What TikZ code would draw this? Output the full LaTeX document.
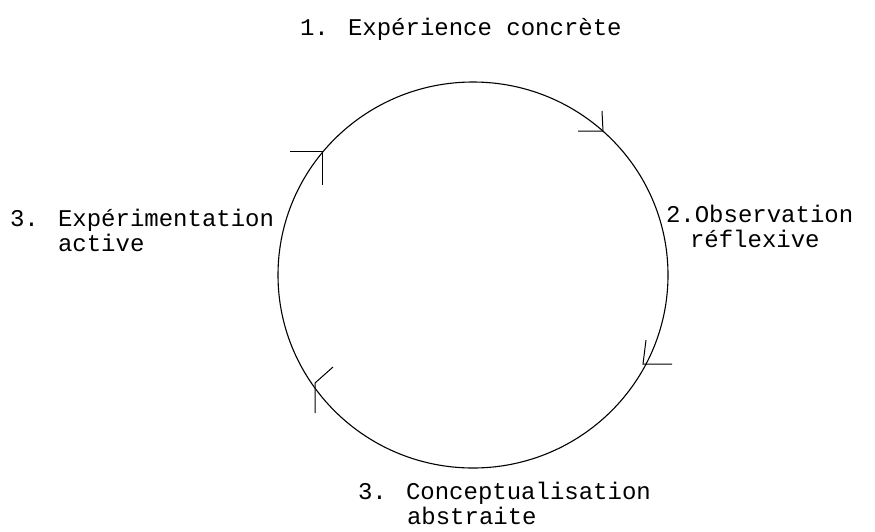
\documentclass[tikz,border=0pt]{standalone}
\usepackage{fontspec}
\setmainfont{Liberation Mono}
\usetikzlibrary{shapes.geometric}
\begin{document}
\begin{tikzpicture}[x=1pt,y=-1pt,
  lbl/.style={inner sep=0pt, outer sep=0pt, align=left, font=\fontsize{24}{25}\selectfont},
  ring/.style={draw, line width=1.1pt, ellipse, inner sep=0pt, minimum width=390pt, minimum height=386pt},
  tick/.style={line width=1pt}]
\useasboundingbox (0,0) rectangle (875,531);
\node[ring] (cyc) at (473,275) {};
\node[lbl, anchor=base west] (t1) at (300,35) {1. Expérience concrète};
\node[lbl, anchor=base west] (t2) at (666,247) {2.Observation\\\hspace*{24pt}réflexive};
\node[lbl, anchor=base west] (t3) at (358,524) {3. Conceptualisation\\\hspace*{49pt}abstraite};
\node[lbl, anchor=base west] (t4) at (10,251) {3. Expérimentation\\\phantom{3. }active};
% half-arrow ticks on the cycle
\coordinate (a1) at (603,131);
\coordinate (a2) at (322,151);
\coordinate (a3) at (643,364);
\coordinate (a4) at (315,383);
\draw[tick] (602,111) -- (a1) -- (578,131);
\draw[tick] (290,151) -- (a2) -- (322,185);
\draw[tick] (672,364) -- (a3) -- (646,340);
\draw[tick] (315,413) -- (a4) -- (333,367);
\end{tikzpicture}
\end{document}
